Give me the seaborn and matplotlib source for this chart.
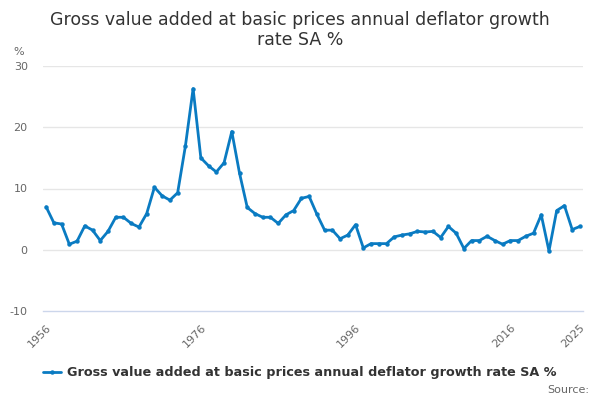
import matplotlib
matplotlib.use("Agg")

import matplotlib.pyplot as plt
import pandas as pd
import seaborn as sns

# values
years = list(range(1956, 2026))
growth = [
    7.0, 4.4, 4.2, 0.9, 1.4, 3.9, 3.2, 1.5, 3.0, 5.3,
    5.3, 4.3, 3.7, 5.9, 10.2, 8.8, 8.1, 9.3, 16.9, 26.3,
    15.0, 13.7, 12.7, 14.2, 19.3, 12.5, 6.9, 5.9, 5.3, 5.3,
    4.3, 5.7, 6.4, 8.4, 8.7, 5.8, 3.2, 3.2, 1.8, 2.4,
    4.1, 0.3, 1.0, 1.0, 1.0, 2.1, 2.4, 2.6, 3.0, 2.9,
    3.0, 2.0, 3.8, 2.7, 0.2, 1.5, 1.5, 2.2, 1.5, 0.9,
    1.5, 1.5, 2.2, 2.7, 5.7, -0.2, 6.4, 7.2, 3.3, 3.8,
]
series_name = "Gross value added at basic prices annual deflator growth rate SA %"
title_text = "Gross value added at basic prices annual deflator growth\nrate SA %"
y_ticks = [-10, 0, 10, 20, 30]
x_labelled = [1956, 1976, 1996, 2016, 2025]

df = pd.DataFrame({"year": years, "value": growth})

sns.set_theme(style="white")
plt.rcParams["font.family"] = ["DejaVu Sans"]

line_color = "#0a7bc2"
axis_color = "#ccd6eb"

fig = plt.figure(figsize=(6, 4), dpi=100)
ax = fig.add_axes([0.0717, 0.2225, 0.9, 0.6125])

sns.lineplot(data=df, x="year", y="value", ax=ax, color=line_color,
             linewidth=2, marker="o", markersize=3.2, markeredgewidth=0,
             label=series_name, legend=False)

ax.set_xlim(1956 - 0.4, 2025 + 0.4)
ax.set_ylim(-10, 30)

for v in y_ticks[1:]:
    ax.axhline(v, color="#e6e6e6", linewidth=1, zorder=0)

for side in ["top", "right", "left"]:
    ax.spines[side].set_visible(False)
ax.spines["bottom"].set_color(axis_color)
ax.spines["bottom"].set_linewidth(1)

ax.set_yticks(y_ticks)
ax.set_yticklabels([str(v) for v in y_ticks])
ax.tick_params(axis="y", length=0, labelsize=8, labelcolor="#666666", pad=11)

xticks = list(range(1956, 2025, 5)) + [2025]
ax.set_xticks(xticks)
ax.set_xticklabels([str(t) if t in x_labelled else "" for t in xticks])
ax.tick_params(axis="x", direction="out", length=7.5, width=1, color=axis_color,
               labelsize=8, labelcolor="#666666", pad=1)
for lbl in ax.get_xticklabels():
    lbl.set_rotation(45)
    lbl.set_ha("right")
    lbl.set_rotation_mode("anchor")

ax.set_xlabel("")
ax.set_ylabel("")

fig.text(0.023, 0.87, "%", fontsize=8, color="#666666", va="center")
fig.text(0.5, 0.925, title_text, fontsize=12.5, color="#333333",
         ha="center", va="center", linespacing=1.2)

handles, labels = ax.get_legend_handles_labels()
leg = fig.legend(handles, labels, loc="center", bbox_to_anchor=(0.5, 0.068),
                 frameon=False, handlelength=1.4, handletextpad=0.5,
                 prop={"size": 9.2, "weight": "bold"})
for t in leg.get_texts():
    t.set_color("#333333")

fig.text(0.982, 0.025, "Source:", fontsize=8, color="#666666",
         ha="right", va="center")

fig.savefig("out.png", dpi=100)
